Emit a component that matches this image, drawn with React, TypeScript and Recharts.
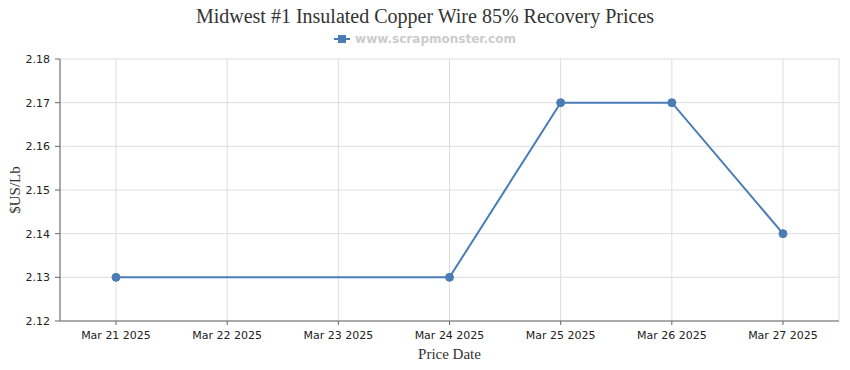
import React from "react";
import { LineChart, Line, XAxis, YAxis, CartesianGrid } from "recharts";

const dates = ["Mar 21 2025", "Mar 22 2025", "Mar 23 2025", "Mar 24 2025", "Mar 25 2025", "Mar 26 2025", "Mar 27 2025"];
const prices: (number | null)[] = [2.13, null, null, 2.13, 2.17, 2.17, 2.14];
const yTicks = [2.12, 2.13, 2.14, 2.15, 2.16, 2.17, 2.18];

const title = "Midwest #1 Insulated Copper Wire 85% Recovery Prices";
const seriesName = "www.scrapmonster.com";
const yLabel = "$US/Lb";
const xLabel = "Price Date";

const data = dates.map((d, i) => ({ date: d, price: prices[i] }));

const LINE = "#4a7db5";
const SERIF = "'Liberation Serif', 'Times New Roman', serif";
const SANS = "'DejaVu Sans', Verdana, sans-serif";

const YLabel = (props: any) => {
  const vb = props.viewBox || {};
  const cy = (vb.y || 0) + (vb.height || 0) / 2;
  const cx = 15;
  return (
    <text
      x={cx}
      y={cy}
      transform={`rotate(-90, ${cx}, ${cy})`}
      textAnchor="middle"
      dominantBaseline="central"
      fill="#333"
      fontFamily={SERIF}
      fontSize={15}
    >
      {yLabel}
    </text>
  );
};

export default function App() {
  return (
    <div style={{ position: "relative", width: 850, height: 370, background: "#fff" }}>
      <style>{`body{margin:0}`}</style>
      <div
        style={{
          position: "absolute",
          top: 5,
          left: 0,
          width: 850,
          textAlign: "center",
          fontFamily: SERIF,
          fontSize: 20,
          color: "#333",
        }}
      >
        {title}
      </div>
      <div
        style={{
          position: "absolute",
          top: 32,
          left: 0,
          width: 850,
          display: "flex",
          justifyContent: "center",
          alignItems: "center",
          fontFamily: SANS,
          fontSize: 12,
          fontWeight: "bold",
          color: "#cccccc",
        }}
      >
        <svg width={16} height={10} style={{ marginRight: 5 }}>
          <line x1={0} y1={5} x2={16} y2={5} stroke={LINE} strokeWidth={2} />
          <rect x={4} y={1} width={8} height={8} fill={LINE} />
        </svg>
        <span>{seriesName}</span>
      </div>
      <LineChart
        width={850}
        height={370}
        data={data}
        margin={{ top: 59, right: 11, bottom: 0, left: 0 }}
      >
        <CartesianGrid stroke="#dddddd" />
        <XAxis
          dataKey="date"
          height={49}
          padding={{ left: 56, right: 56 }}
          stroke="#666"
          tickSize={4}
          tickMargin={6}
          tick={{ fill: "#222", fontFamily: SANS, fontSize: 11 }}
          interval={0}
          label={{ value: xLabel, position: "insideBottom", offset: 11, fill: "#333", fontFamily: SERIF, fontSize: 15 }}
        />
        <YAxis
          width={60}
          domain={[2.12, 2.18]}
          ticks={yTicks}
          tickFormatter={(v: number) => v.toFixed(2)}
          stroke="#666"
          tickSize={5}
          tickMargin={5}
          tick={{ fill: "#222", fontFamily: SANS, fontSize: 11 }}
          label={<YLabel />}
        />
        <Line
          type="linear"
          dataKey="price"
          stroke={LINE}
          strokeWidth={2}
          dot={{ r: 4, fill: LINE, stroke: LINE, strokeWidth: 1 }}
          activeDot={false}
          connectNulls
          isAnimationActive={false}
        />
      </LineChart>
    </div>
  );
}
